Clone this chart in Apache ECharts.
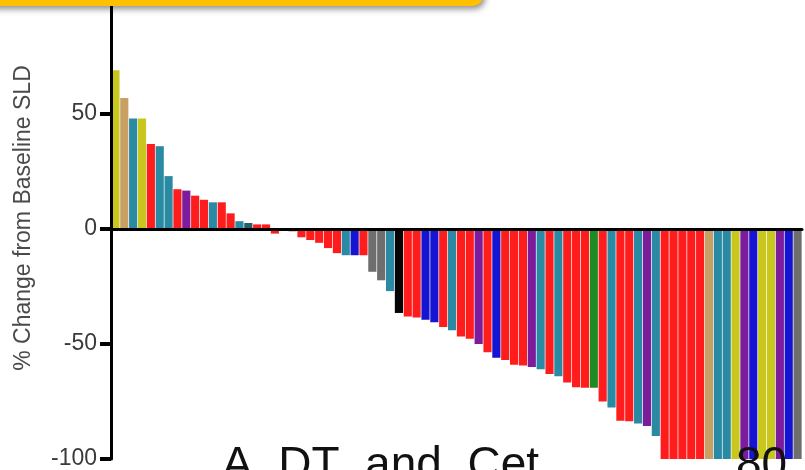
<!DOCTYPE html>
<html>
<head>
<meta charset="utf-8">
<script src="https://cdn.jsdelivr.net/npm/echarts@6/dist/echarts.min.js"></script>
<style>html,body{margin:0;padding:0;background:#fff;}#c{width:805px;height:470px;}</style>
</head>
<body>
<div id="c"></div>
<script>
// Per-patient best % change from baseline SLD (waterfall), left to right
const patients = Array.from({length: 78}, (_, i) => 'P' + (i + 1));
const values = [
  69, 57, 48, 48, 37, 36, 23, 17.3, 16.7, 14.5,
  12.7, 11.6, 11.6, 6.8, 3.4, 2.6, 2, 2, -2, -0.5,
  -1, -3.6, -4.8, -6, -8.3, -10.5, -11.4, -11.4, -11.4, -18.6,
  -22.3, -27, -36.5, -38, -38.5, -39.5, -40.5, -42.6, -44, -46.7,
  -47.7, -50, -53.6, -56, -57, -59, -59.4, -60, -61, -63,
  -64, -66.7, -68.8, -69, -69, -75, -77.6, -83.4, -83.6, -84.6,
  -85.6, -90, -100, -100, -100, -100, -100, -100, -100, -100,
  -100, -100, -100, -100, -100, -100, -100, -100
];
// group code per bar
const groups = [
  'Y','T','C','Y','R','C','C','R','P','R',
  'R','C','R','R','C','D','R','R','R','R',
  'R','R','R','R','R','R','C','B','R','G',
  'G','C','K','R','R','B','B','R','C','R',
  'R','P','R','B','R','R','R','P','C','R',
  'C','R','R','R','N','R','C','R','R','C',
  'P','C','R','R','R','R','R','T','C','C',
  'Y','P','B','Y','Y','P','B','G'
];
const yTicks = [-100, -50, 0, 50, 100];

const palette = {
  R: '#ff1c1c', C: '#2a8aa3', B: '#1414d2', P: '#7a1c9c', Y: '#c9c61e',
  T: '#c8a064', G: '#6e6e6e', K: '#050505', N: '#1f8a22', D: '#24606a'
};

const chart = echarts.init(document.getElementById('c'), null, {renderer: 'canvas'});
chart.setOption({
  animation: false,
  backgroundColor: '#ffffff',
  grid: {left: 111, right: 3, top: -1, bottom: 11, containLabel: false, outerBoundsMode: 'none'},
  xAxis: {
    type: 'category',
    data: patients,
    axisLine: {show: true, onZero: true, lineStyle: {color: '#000', width: 3}},
    axisTick: {show: false},
    axisLabel: {show: false},
    splitLine: {show: false},
    z: 5
  },
  yAxis: {
    type: 'value',
    min: yTicks[0], max: yTicks[yTicks.length - 1], interval: 50,
    name: '% Change from Baseline SLD',
    nameLocation: 'middle',
    nameGap: 76,
    nameMoveOverlap: false,
    nameTextStyle: {fontFamily: 'Liberation Sans', fontSize: 23, color: '#4a4a4a', padding: [0, 0, 0, 22]},
    axisLine: {show: true, lineStyle: {color: '#000', width: 3}},
    axisTick: {show: true, inside: false, length: 11, lineStyle: {color: '#000', width: 4}},
    axisLabel: {fontFamily: 'Liberation Sans', fontSize: 23, color: '#3a3a3a', margin: 14},
    splitLine: {show: false},
    z: 6
  },
  series: [{
    type: 'bar',
    barCategoryGap: '8%',
    data: values.map((v, i) => ({value: v, itemStyle: {color: palette[groups[i]]}}))
  }],
  graphic: [
    {
      type: 'rect', z: 100,
      shape: {x: -20, y: -30, width: 503, height: 36, r: [0, 0, 10, 0]},
      style: {fill: '#ffc000', shadowBlur: 6, shadowOffsetY: 3, shadowOffsetX: 2, shadowColor: 'rgba(0,0,0,0.45)'}
    },
    {
      type: 'text', z: 100, left: 222, top: 443,
      style: {text: 'A  DT  and  Cet', fontFamily: 'Liberation Sans', fontSize: 46, fill: '#111'}
    },
    {
      type: 'text', z: 100, left: 736, top: 443,
      style: {text: '80', fontFamily: 'Liberation Sans', fontSize: 46, fill: '#111'}
    }
  ]
});
</script>
</body>
</html>
